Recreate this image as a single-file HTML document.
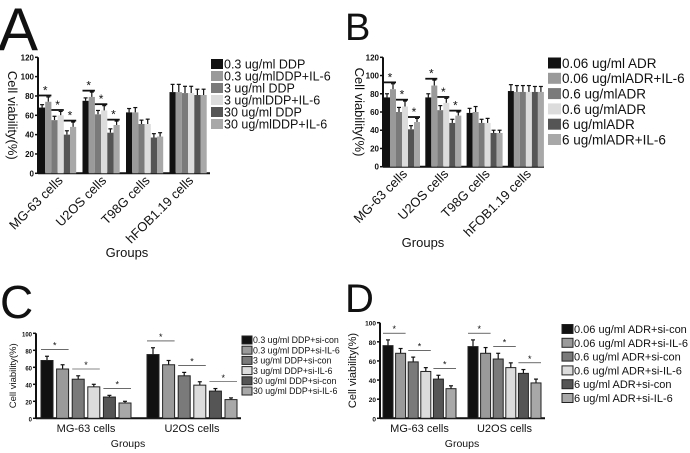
<!DOCTYPE html>
<html><head><meta charset="utf-8"><style>
body{margin:0;background:#fff}
svg{display:block;font-family:"Liberation Sans",Arial,sans-serif}
</style></head><body>
<svg id="fig" width="690" height="453" viewBox="0 0 690 453"></svg>
<script>
const groupsAB = ["MG-63 cells","U2OS cells","T98G cells","hFOB1.19 cells"];
const groupsCD = ["MG-63 cells","U2OS cells"];
const legendA = ["0.3 ug/ml DDP","0.3 ug/mlDDP+IL-6","3 ug/ml DDP","3 ug/mlDDP+IL-6","30 ug/ml DDP","30 ug/mlDDP+IL-6"];
const legendB = ["0.06 ug/ml ADR","0.06 ug/mlADR+IL-6","0.6 ug/mlADR","0.6 ug/mlADR","6 ug/mlADR","6 ug/mlADR+IL-6"];
const legendC = ["0.3 ug/ml DDP+si-con","0.3 ug/ml DDP+si-IL-6","3 ug/ml DDP+si-con","3 ug/ml DDP+si-IL-6","30 ug/ml DDP+si-con","30 ug/ml DDP+si-IL-6"];
const legendD = ["0.06 ug/ml ADR+si-con","0.06 ug/ml ADR+si-IL-6","0.6 ug/ml ADR+si-con","0.6 ug/ml ADR+si-IL-6","6 ug/ml ADR+si-con","6 ug/ml ADR+si-IL-6"];
const valuesA = [[68,74,55,60,40,48],[75,79,61,65,42,50],[63,63,51,51,37,38],[84,84,83,83,81,81]];
const errorsA = [[3,5,4,4,4,5],[3,5,4,5,4,4],[4,5,4,5,4,4],[8,8,7,7,6,6]];
const valuesB = [[76,85,60,66,41,49],[76,89,62,70,48,56],[59,60,48,48,37,37],[83,82,82,82,82,82]];
const errorsB = [[4,6,5,6,4,4],[4,6,5,5,4,4],[5,6,4,5,3,3],[7,7,7,7,6,6]];
const valuesC = [[68,58,46,37,25,18],[75,63,50,39,32,22]];
const errorsC = [[5,5,4,3,2,2],[8,5,4,4,3,2]];
const valuesD = [[76,68,59,49,41,31],[75,68,62,53,47,37]];
const errorsD = [[6,5,5,4,4,3],[7,6,6,5,4,4]];
const ticksAB = [0,20,40,60,80,100,120];
const ticksCD = [0,20,40,60,80,100];
const colors = ["#111111","#9a9a9a","#7a7a7a","#dcdcdc","#555555","#a8a8a8"];

const svg = document.getElementById('fig');
const NS = 'http://www.w3.org/2000/svg';
function mk(tag, attrs, name, parent){
  const e = document.createElementNS(NS, tag);
  for (const k in attrs) e.setAttribute(k, attrs[k]);
  
  
  (parent||svg).appendChild(e);
  return e;
}
function txt(x,y,s,size,name,extra,parent){
  const t = mk('text', Object.assign({x:x,y:y,'font-size':size,fill:'#111'}, extra||{}), name, parent);
  t.textContent = s; return t;
}

function panel(cfg){
  const g = mk('g', {}, 'panel-'+cfg.id);
  txt(cfg.letterX, cfg.letterY, cfg.id, cfg.letterSize, 'panel-letter-'+cfg.id, {}, g);
  const ymax = cfg.ticks[cfg.ticks.length-1];
  const Y = v => cfg.y0 - v/ymax*(cfg.y0-cfg.yTop);
  mk('line',{x1:cfg.ax,y1:cfg.yTop,x2:cfg.ax,y2:cfg.y0,stroke:'#111','stroke-width':2},'y-axis',g);
  mk('line',{x1:cfg.ax,y1:cfg.y0,x2:cfg.axEnd,y2:cfg.y0,stroke:'#111','stroke-width':2},'x-axis',g);
  cfg.ticks.forEach(t=>{
    mk('line',{x1:cfg.ax-3,y1:Y(t),x2:cfg.ax,y2:Y(t),stroke:'#111','stroke-width':1.5},'y-tick',g);
    txt(cfg.ax-4, Y(t)+3, String(t), cfg.tickSize, 'y-tick-label', {'text-anchor':'end','font-weight':'bold'}, g);
  });
  cfg.values.forEach((vals, gi)=>{
    const gx = cfg.gStart + gi*cfg.gPitch;
    vals.forEach((v, bi)=>{
      const x = gx + bi*cfg.bPitch;
      const err = cfg.errors[gi][bi];
      mk('line',{x1:x+cfg.bw/2,y1:Y(v),x2:x+cfg.bw/2,y2:Y(v+err),stroke:'#111','stroke-width':1.2},'error-bar',g);
      mk('line',{x1:x+cfg.bw/2-2,y1:Y(v+err),x2:x+cfg.bw/2+2,y2:Y(v+err),stroke:'#111','stroke-width':1.2},'error-cap',g);
      mk('rect',{x:x,y:Y(v),width:cfg.bw,height:Y(0)-Y(v),fill:colors[bi],stroke:cfg.barStroke?'#222':'none','stroke-width':1},'bar-'+gi+'-'+bi,g);
    });
    if (gi < 2){
      for (let p=0;p<3;p++){
        const a=2*p, b=2*p+1;
        const top = Math.max(vals[a]+cfg.errors[gi][a], vals[b]+cfg.errors[gi][b]) + cfg.sigPad;
        const x1 = gx + a*cfg.bPitch, x2 = gx + b*cfg.bPitch + cfg.bw;
        mk('line',{x1:x1,y1:Y(top),x2:x2,y2:Y(top),stroke:'#111','stroke-width':cfg.sigW},'significance-line',g);
        txt((x1+x2)/2, Y(top)-1, '*', cfg.starSize, 'significance-star', {'text-anchor':'middle'}, g);
      }
    }
    const cx = gx + (vals.length*cfg.bPitch - (cfg.bPitch-cfg.bw))/2;
    if (cfg.rot){
      txt(cx+6, cfg.y0+8, cfg.groups[gi], 13, 'x-tick-label', {'text-anchor':'end',transform:`rotate(-45 ${cx+6} ${cfg.y0+8})`}, g);
    } else {
      txt(cx, cfg.labY, cfg.groups[gi], 11, 'x-tick-label', {'text-anchor':'middle'}, g);
    }
  });
  txt(cfg.groupsX, cfg.groupsY, 'Groups', cfg.rot?13:10.5, 'x-axis-title', {'text-anchor':'middle'}, g);
  const ym = (cfg.yTop+cfg.y0)/2;
  txt(cfg.ytX, ym, 'Cell viability(%)', cfg.ytSize, 'y-axis-title', {'text-anchor':'middle',transform:`rotate(${cfg.ytRot} ${cfg.ytX} ${ym})`}, g);
  cfg.legend.forEach((s,i)=>{
    const ly = cfg.lY + i*cfg.lStep;
    mk('rect',{x:cfg.lX,y:ly-cfg.lBox/2,width:cfg.lBox+2,height:cfg.lBox,fill:colors[i],stroke:cfg.barStroke?'#222':'none'},'legend-swatch',g);
    txt(cfg.lX+cfg.lBox+3, ly+cfg.lFont*0.36, s, cfg.lFont, 'legend-entry', {}, g);
  });
}

panel({id:'A',letterX:-2,letterY:50,letterSize:60,ax:38,axEnd:210,yTop:57.3,y0:173.3,ticks:ticksAB,tickSize:8,
  values:valuesA,errors:errorsA,gStart:39,gPitch:43.5,bPitch:6.2,bw:6.2,barStroke:false,sigPad:1.5,sigW:1.8,starSize:12,
  groups:groupsAB,rot:true,groupsX:127,groupsY:257,ytX:8,ytRot:90,ytSize:13,
  legend:legendA,lX:211,lY:64,lStep:12,lBox:10,lFont:12.5});
panel({id:'B',letterX:345,letterY:40,letterSize:38,ax:383,axEnd:544,yTop:57.3,y0:166.7,ticks:ticksAB,tickSize:8,
  values:valuesB,errors:errorsB,gStart:384,gPitch:41.3,bPitch:6,bw:6,barStroke:false,sigPad:1.5,sigW:1.8,starSize:12,
  groups:groupsAB,rot:true,groupsX:423,groupsY:247,ytX:355,ytRot:90,ytSize:13,
  legend:legendB,lX:548,lY:63,lStep:15.3,lBox:11,lFont:13.5});
panel({id:'C',letterX:0,letterY:318,letterSize:46,ax:36,axEnd:241,yTop:333.3,y0:418.3,ticks:ticksCD,tickSize:6,
  values:valuesC,errors:errorsC,gStart:41,gPitch:106,bPitch:15.6,bw:12,barStroke:true,sigPad:8,sigW:0.6,starSize:9,
  groups:groupsCD,rot:false,labY:432,groupsX:128,groupsY:447,ytX:16,ytRot:-90,ytSize:9.5,
  legend:legendC,lX:242,lY:340,lStep:10.2,lBox:8,lFont:8.8});
panel({id:'D',letterX:345,letterY:312,letterSize:40,ax:380,axEnd:545,yTop:322.7,y0:418.3,ticks:ticksCD,tickSize:6.5,
  values:valuesD,errors:errorsD,gStart:383,gPitch:85,bPitch:12.6,bw:10,barStroke:true,sigPad:7,sigW:0.6,starSize:9,
  groups:groupsCD,rot:false,labY:432,groupsX:462,groupsY:447,ytX:356,ytRot:-90,ytSize:11,
  legend:legendD,lX:562,lY:329,lStep:13.8,lBox:9,lFont:11});
</script>
</body></html>
